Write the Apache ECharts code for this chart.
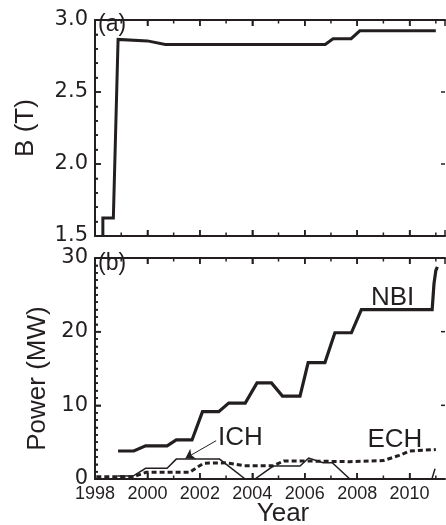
<!DOCTYPE html>
<html><head><meta charset="utf-8">
<script src="https://cdn.jsdelivr.net/npm/echarts@6/dist/echarts.min.js"></script>
<style>html,body{margin:0;padding:0;background:#fff}#c{width:446px;height:525px}</style>
</head><body><div id="c"></div>
<script>
// ---- data ----
const bField = [[1998.3,1.5],[1998.3,1.625],[1998.7,1.625],[1998.88,2.865],[2000.0,2.855],[2000.68,2.83],[2006.78,2.83],[2007.08,2.87],[2007.77,2.87],[2008.1,2.925],[2011.0,2.925]];
const nbi = [[1998.88,3.8],[1999.48,3.8],[1999.93,4.5],[2000.75,4.5],[2001.1,5.3],[2001.7,5.3],[2002.1,9.15],[2002.72,9.15],[2003.1,10.3],[2003.73,10.3],[2004.18,13.05],[2004.73,13.05],[2005.15,11.25],[2005.82,11.25],[2006.13,15.8],[2006.77,15.8],[2007.15,19.85],[2007.78,19.85],[2008.16,23.0],[2010.86,23.0],[2010.93,26.5],[2011.0,28.3],[2011.06,28.8]];
const ich = [[1998.85,0.4],[1999.45,0.4],[1999.93,1.45],[2000.75,1.45],[2001.1,2.7],[2002.75,2.7],[2003.73,0],[2004.1,0],[2004.8,1.75],[2005.82,1.75],[2006.15,2.85],[2006.7,2.2],[2007.05,2.2],[2007.72,0],[2010.85,0],[2010.97,1.4]];
const ech = [[1998.05,0.3],[1999.45,0.3],[1999.95,0.9],[2001.6,0.9],[2001.9,1.6],[2002.15,2.15],[2003.0,2.2],[2003.7,1.8],[2004.8,1.8],[2005.2,2.45],[2006.0,2.45],[2007.7,2.35],[2009.0,2.5],[2009.6,3.2],[2010.0,3.8],[2011.0,4.0]];
const xTicks = [1998,2000,2002,2004,2006,2008,2010];
const xMinorTicks = [1999,2001,2003,2005,2007,2009,2011];
const bTicks = [1.5,2.0,2.5,3.0];
const bMinorStep = 0.1;
const pTicks = [0,10,20,30];
const pMinorStep = 1;
const seriesLabels = [{name:'NBI', coord:[2009.35,24.6]},{name:'ICH', coord:[2003.55,5.6]},{name:'ECH', coord:[2009.44,5.3]}];
const ichArrow = [[2002.62,5.2],[2001.45,2.8]];
const xMax = 2011.35;

const INK = '#231f20';
const FONT = 'Liberation Sans';

function xAxes(gi, showLabels) {
  const base = {type:'value', gridIndex:gi, min:xTicks[0], max:xMax, splitNumber:xTicks.length,
    splitLine:{show:false}, minorTick:{show:false},
    axisTick:{show:true, inside:true, length:6, lineStyle:{color:INK, width:1.5}},
    axisLine:{show:true, onZero:false, lineStyle:{color:INK, width:2}}};
  return [
    Object.assign({}, base, {position:'bottom',
      axisLabel:{show:showLabels, color:INK, fontFamily:FONT, fontSize:18, margin:6, showMaxLabel:false, hideOverlap:false,
        formatter:v => xTicks.indexOf(v) >= 0 ? String(v) : ''},
      name: showLabels ? 'Year' : '', nameLocation:'middle', nameGap:22, nameMoveOverlap:false,
      nameTextStyle:{color:INK, fontFamily:FONT, fontSize:26, padding:[0,0,0,26]}}),
    Object.assign({}, base, {position:'top', axisLabel:{show:false}})
  ];
}
function yAxes(gi, ticks, minorSplit, name, nameGap, namePad, digits) {
  const base = {type:'value', gridIndex:gi, min:ticks[0], max:ticks[ticks.length-1], splitNumber:ticks.length-1,
    splitLine:{show:false}};
  return [
    Object.assign({}, base, {position:'left',
      axisLine:{show:true, onZero:false, lineStyle:{color:INK, width:2}},
      axisTick:{show:true, inside:true, length:6, lineStyle:{color:INK, width:1.5}},
      minorTick:{show:true, splitNumber:minorSplit, length:3, lineStyle:{color:INK, width:1.5}},
      axisLabel:{show:true, color:INK, fontFamily:'DejaVu Sans', fontSize:21, margin:7, formatter:v => v.toFixed(digits)},
      name:name, nameLocation:'middle', nameGap:nameGap, nameMoveOverlap:false,
      nameTextStyle:{color:INK, fontFamily:FONT, fontSize:26, padding:namePad}}),
    Object.assign({}, base, {position:'right',
      axisLine:{show:false, onZero:false}, axisTick:{show:false}, minorTick:{show:false},
      axisLabel:{show:false}})
  ];
}

// inward tick marks, placed at axis values through the grid's own scales
function tickItems(yTicks, yMinorStep) {
  const yMin = yTicks[0], yMax = yTicks[yTicks.length-1], xMin = xTicks[0];
  const items = [];
  xTicks.forEach(v => { items.push([v, yMin, 0, -6]); items.push([v, yMax, 0, 6]); });
  xMinorTicks.forEach(v => { items.push([v, yMin, 0, -3.5]); items.push([v, yMax, 0, 3.5]); });
  const n = Math.round((yMax - yMin) / yMinorStep);
  for (let i = 0; i <= n; i++) {
    const v = +(yMin + i * yMinorStep).toFixed(4);
    const major = yTicks.some(t => Math.abs(t - v) < 1e-6);
    items.push([xMin, v, major ? 6 : 3, 0]);
    if (major && i > 0 && i < n) items.push([xMax, v, -4, 0]);
  }
  return items;
}
const tickSeries = (data, xi, yi) => ({
  type:'custom', xAxisIndex:xi, yAxisIndex:yi, silent:true, z:4, clip:false,
  dimensions:['x','y','dx','dy'], encode:{x:'x', y:'y'}, data,
  renderItem:(params, api) => {
    const p = api.coord([api.value('x'), api.value('y')]);
    return {type:'line', shape:{x1:p[0], y1:p[1], x2:p[0] + api.value('dx'), y2:p[1] + api.value('dy')},
      style:{stroke:INK, lineWidth:1.5, fill:null}};
  }
});

const lineSeries = (name, data, xi, yi, width, type) => ({
  name, type:'line', data, xAxisIndex:xi, yAxisIndex:yi, symbol:'none', showSymbol:false,
  lineStyle:{color:INK, width, type: type || 'solid', cap:'butt', join:'miter'}, itemStyle:{color:INK}, z:3
});

const nbiSeries = lineSeries('NBI', nbi, 2, 2, 3.2);
const ichSeries = lineSeries('ICH', ich, 2, 2, 1.5);
const echSeries = lineSeries('ECH', ech, 2, 2, 3, [5,3]);
const labelMark = (items) => ({symbol:'circle', symbolSize:0, silent:true,
  label:{show:true, position:'inside', formatter:'{b}', color:INK, fontFamily:FONT, fontSize:26},
  data: items.map(d => ({name:d.name, coord:d.coord}))});
nbiSeries.markPoint = labelMark(seriesLabels.filter(d => d.name === 'NBI'));
ichSeries.markPoint = labelMark(seriesLabels.filter(d => d.name === 'ICH'));
echSeries.markPoint = labelMark(seriesLabels.filter(d => d.name === 'ECH'));
ichSeries.markLine = {silent:true, symbol:['none','arrow'], symbolSize:9, animation:false,
  lineStyle:{color:INK, width:1, type:'solid'}, label:{show:false},
  data:[[{coord:ichArrow[0]},{coord:ichArrow[1]}]]};

const chart = echarts.init(document.getElementById('c'), null, {renderer:'canvas'});
chart.setOption({
  backgroundColor:'#fff',
  animation:false,
  title:[
    {text:'(a)', left:98, top:13, padding:0, textStyle:{fontSize:23, fontWeight:'normal', fontFamily:FONT, color:INK}},
    {text:'(b)', left:98, top:252, padding:0, textStyle:{fontSize:23, fontWeight:'normal', fontFamily:FONT, color:INK}}
  ],
  grid:[
    {left:95, top:20, width:350, height:216, outerBoundsMode:'none'},
    {left:95, top:258, width:350, height:221, outerBoundsMode:'none'}
  ],
  xAxis: xAxes(0, false).concat(xAxes(1, true)),
  yAxis: yAxes(0, bTicks, 5, 'B (T)', 56, [0,0,0,0], 1).concat(yAxes(1, pTicks, 10, 'Power (MW)', 44, [0,20,0,0], 0)),
  series:[
    tickSeries(tickItems(bTicks, bMinorStep), 0, 0),
    tickSeries(tickItems(pTicks, pMinorStep), 2, 2),
    lineSeries('B', bField, 0, 0, 3),
    nbiSeries, ichSeries, echSeries
  ]
});
</script></body></html>
